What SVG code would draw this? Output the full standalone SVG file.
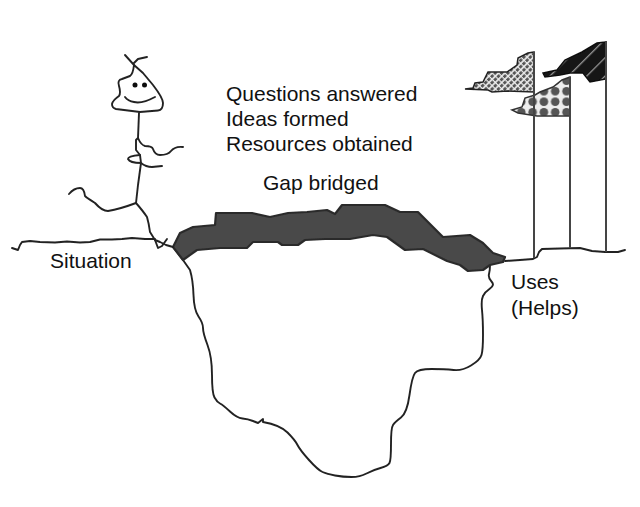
<svg xmlns="http://www.w3.org/2000/svg" width="640" height="507" viewBox="0 0 640 507">
<style>
.l{fill:none;stroke:#222;stroke-width:1.9;stroke-linejoin:round;stroke-linecap:round}
.p{fill:none;stroke:#444;stroke-width:2}
.t{font-family:"Liberation Sans",Arial,sans-serif;font-size:21px;fill:#111}
</style>
<defs>
<filter id="soft" x="-5%" y="-5%" width="110%" height="110%"><feGaussianBlur stdDeviation="0.4"/></filter>
<pattern id="hatchLight" width="4.500" height="4.500" patternUnits="userSpaceOnUse" patternTransform="rotate(-45)">
<rect width="4.500" height="4.500" fill="#ddd"/><rect width="4.500" height="2.700" fill="#555"/><rect x="3.300" width="1.200" height="4.500" fill="#eee"/>
</pattern>
<pattern id="hatchDark" width="13" height="13" patternUnits="userSpaceOnUse" patternTransform="rotate(-45)">
<rect width="13" height="13" fill="#141414"/><rect width="13" height="1.300" fill="#999"/>
</pattern>
<pattern id="dots" x="527" y="86" width="11.300" height="10.500" patternUnits="userSpaceOnUse">
<rect width="11.300" height="10.500" fill="#eee"/><circle cx="5.600" cy="5.200" r="4.300" fill="#555"/>
</pattern>
</defs>
<rect width="640" height="507" fill="#fff"/>
<g filter="url(#soft)">
<g id="ground">
<polyline class="l" points="12,248 18,250 20,245 22,242 30,241 40,242 55,242.500 67,241.500 80,242.500 90,242 100,239.500 112,239.500 122,239 132,238 145,239 155,239"/>
<polyline class="l" points="505,261 520,260 533,259 537,257 539,252 542,249 560,248.500 580,248 592,251 605,252 618,252 625,250"/>
</g>
<g id="pit">
<path class="l" d="M173,247L183,260L190,270Q193,280 193.500,295Q194,310 198.500,316.500Q203,323 203,328Q203,333 207.500,345Q212,357 212,375Q212,393 214.500,397.500Q217,402 220,403.500Q223,405 230,411.500Q237,418 242.500,418.500Q248,419 253,421L258,423L263,419L263,422Q280,425 287.500,432.500Q295,440 297.500,445Q300,450 309,460Q318,470 322.500,472Q327,474 335,475.500Q343,477 351.500,477Q360,477 366.500,473.500Q373,470 380.500,468Q388,466 389.500,463Q391,460 391,444Q391,428 393,425Q395,422 401,417.500Q407,413 409.500,395Q412,377 415,373Q418,369 431.500,369Q445,369 453.500,370Q462,371 471,365.500Q480,360 481.500,355Q483,350 483,335Q483,320 482,310Q481,300 483,296Q485,292 490,288.500Q495,285 491.500,281.500Q488,278 489,274Q490,270 490,265"/>
</g>
<path id="gap" d="M173,247L180,233L193,227L215,225L216,213L252,213L270,217L288,213L307,212L327,210L335,214L342,205L385,205L400,212L418,212L443,237L470,235L483,243L493,253L505,257L503,262L490,265L483,270L468,271L460,265L447,261L423,249L405,250L387,237L373,235L350,239L325,239L305,240L298,245L282,245L278,242L253,242L247,248L220,248L197,250L183,260Z" fill="#484848" stroke="#2c2c2c" stroke-width="2.200" stroke-linejoin="round"/>
<g id="figure">
<path class="l" d="M125,55L134,65M147,57L138,59L134,63"/>
<path class="l" stroke-width="2.200" d="M134,65L143,73L153,85Q163,98 163,103Q163,110 158,110.500L140,112L116,109Q112,108 112,104Q113,100 119,96Q121,93 119,86Q117,80 122,79L130,76Q133,74 134,65Z"/>
<circle cx="135" cy="85" r="2.500" fill="#111"/><circle cx="144.500" cy="85" r="2.500" fill="#111"/>
<path class="l" d="M125,97Q128,101 134,102Q142,104 155,97"/>
<path class="l" d="M139,113L138,138L136,140L136,150L140,155L141,163L138,185L136,203"/>
<path class="l" d="M138,138Q141,145 145,146Q152,146 153,149Q155,155 160,155Q168,155 171,151Q175,146 183,147"/>
<path class="l" d="M140,155Q128,156 128,159Q130,163 141,163Q146,167 152,167L162,166"/>
<path class="l" d="M136,203Q120,209 108,211Q102,211 95,203Q87,198 85,196Q84,188 80,188Q74,188 69,194"/>
<path class="l" d="M136,203Q143,211 147,217Q149,224 150,232L155,240L158,248L162,246L167,239"/>
<path class="l" d="M155,240L160,242L166,245L173,247"/>
</g>
<g id="flags">
<polygon points="534,52 528,53 518,58 517,65 507,72 488,72 483,82 475,83 473,88 465,89 488,90 492,92 507,91 534,92" fill="url(#hatchLight)" stroke="#222" stroke-width="1.500"/>
<polygon points="606,42 597,43 582,52 565,60 557,70 543,73 545,77 560,75 570,73 583,73 590,82 606,79" fill="url(#hatchDark)" stroke="#111" stroke-width="1.500"/>
<polygon points="570,77 562,80 553,87 540,92 535,95 525,98 522,107 512,110 518,113 537,116 570,116" fill="url(#dots)" stroke="#333" stroke-width="1.500"/>
<path class="p" d="M534,52V258M570,77V248M606,41V252"/>
</g>
</g>
<g id="labels">
<text class="t" x="226" y="101">Questions answered</text>
<text class="t" x="226" y="126">Ideas formed</text>
<text class="t" x="226" y="151">Resources obtained</text>
<text class="t" x="263" y="190">Gap bridged</text>
<text class="t" x="50" y="268">Situation</text>
<text class="t" x="511" y="289">Uses</text>
<text class="t" x="511" y="315">(Helps)</text>
</g>
</svg>
